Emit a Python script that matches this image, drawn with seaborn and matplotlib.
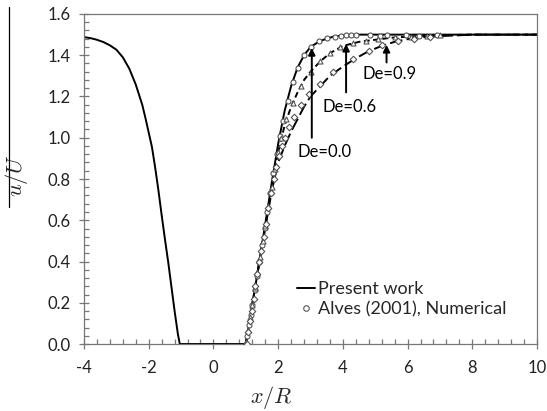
import numpy as np
import pandas as pd
import matplotlib
matplotlib.use("Agg")
import matplotlib.pyplot as plt
from matplotlib.lines import Line2D
from matplotlib.ticker import MultipleLocator
import seaborn as sns

# ---------------- data ----------------
# upstream branch (same for all De)
x_up = [-4.0, -3.8, -3.6, -3.4, -3.2, -3.0, -2.8, -2.6, -2.4, -2.2, -2.1, -2.0,
        -1.9, -1.8, -1.7, -1.6, -1.5, -1.4, -1.3, -1.2, -1.1, -1.04, 1.0]
y_up = [1.488, 1.483, 1.475, 1.464, 1.448, 1.427, 1.39, 1.335, 1.258, 1.16, 1.095,
        1.025, 0.955, 0.855, 0.745, 0.625, 0.51, 0.40, 0.28, 0.16, 0.05, 0.0, 0.0]

# present work, downstream
x_de00 = [1.0, 1.2, 1.4, 1.6, 1.8, 2.0, 2.2, 2.4, 2.6, 2.8, 3.0, 3.2, 3.4, 3.7,
          4.0, 4.5, 5.0, 6.0, 7.0, 8.0, 10.0]
y_de00 = [0.0, 0.19, 0.38, 0.58, 0.78, 0.97, 1.13, 1.25, 1.34, 1.40, 1.44, 1.46,
          1.475, 1.49, 1.496, 1.5, 1.5, 1.5, 1.5, 1.5, 1.5]

x_de06 = [1.0, 1.2, 1.4, 1.6, 1.8, 2.0, 2.2, 2.4, 2.6, 2.8, 3.0, 3.3, 3.6, 4.0,
          4.5, 5.0, 5.5, 6.0, 7.0, 8.0, 10.0]
y_de06 = [0.0, 0.19, 0.38, 0.57, 0.76, 0.93, 1.06, 1.15, 1.22, 1.28, 1.32, 1.37,
          1.41, 1.445, 1.465, 1.475, 1.485, 1.49, 1.497, 1.5, 1.5]

x_de09 = [1.0, 1.2, 1.4, 1.6, 1.8, 2.0, 2.2, 2.4, 2.6, 2.8, 3.0, 3.3, 3.6, 4.0,
          4.4, 4.8, 5.2, 5.6, 6.0, 6.5, 7.0, 7.5, 8.0, 9.0, 10.0]
y_de09 = [0.0, 0.19, 0.38, 0.56, 0.74, 0.88, 0.96, 1.03, 1.09, 1.15, 1.20, 1.25,
          1.30, 1.345, 1.385, 1.42, 1.445, 1.465, 1.478, 1.488, 1.493, 1.496,
          1.5, 1.5, 1.5]

# Alves (2001), numerical
xa_de00 = [1.0, 1.05, 1.1, 1.15, 1.2, 1.27, 1.35, 1.42, 1.5, 1.58, 1.66, 1.75,
           1.85, 1.95, 2.05, 2.15, 2.3, 2.45, 2.6, 2.8, 3.0, 3.25, 3.5, 3.75,
           3.95, 4.1, 4.25, 4.4, 4.85, 5.15, 5.35, 5.95, 6.35, 6.9]
ya_de00 = [0.0, 0.04, 0.09, 0.14, 0.19, 0.26, 0.33, 0.40, 0.48, 0.56, 0.64, 0.73,
           0.83, 0.92, 1.01, 1.08, 1.18, 1.27, 1.34, 1.40, 1.44, 1.47, 1.485,
           1.49, 1.495, 1.5, 1.5, 1.5, 1.5, 1.495, 1.5, 1.5, 1.495, 1.5]

xa_de06 = [1.02, 1.08, 1.14, 1.2, 1.28, 1.36, 1.44, 1.52, 1.6, 1.7, 1.8, 1.9,
           2.0, 2.1, 2.25, 2.45, 2.7, 3.0, 3.3, 3.6, 3.9, 4.3, 4.7, 5.1, 5.6,
           6.1, 6.6, 7.0]
ya_de06 = [0.01, 0.07, 0.13, 0.19, 0.27, 0.35, 0.42, 0.50, 0.57, 0.67, 0.76, 0.85,
           0.93, 1.00, 1.09, 1.17, 1.25, 1.32, 1.37, 1.41, 1.44, 1.46, 1.47,
           1.48, 1.49, 1.49, 1.495, 1.5]

xa_de09 = [1.03, 1.08, 1.13, 1.18, 1.24, 1.3, 1.36, 1.42, 1.48, 1.55, 1.62, 1.7,
           1.78, 1.86, 1.94, 2.02, 2.12, 2.22, 2.35, 2.5, 2.7, 2.95, 3.3, 3.7,
           4.3, 4.8, 5.2, 5.7, 6.2, 6.7]
ya_de09 = [0.0, 0.06, 0.11, 0.16, 0.22, 0.28, 0.34, 0.40, 0.45, 0.52, 0.58, 0.66,
           0.73, 0.80, 0.86, 0.91, 0.96, 1.00, 1.05, 1.10, 1.16, 1.21, 1.26, 1.32,
           1.38, 1.42, 1.45, 1.47, 1.48, 1.49]

# annotations: label, text position, arrow tail, arrow head
ann_labels = ["De=0.0", "De=0.6", "De=0.9"]
ann_text_xy = [(3.45, 0.93), (4.22, 1.15), (5.43, 1.31)]
ann_tail_xy = [(3.04, 1.00), (4.10, 1.22), (5.35, 1.365)]
ann_head_xy = [(3.04, 1.435), (4.10, 1.455), (5.35, 1.45)]

x_ticks = [-4, -2, 0, 2, 4, 6, 8, 10]
y_ticks = [0.0, 0.2, 0.4, 0.6, 0.8, 1.0, 1.2, 1.4, 1.6]

# ---------------- figure ----------------
sns.set_style("white")
plt.rcParams["font.family"] = ["Lato", "DejaVu Sans"]
plt.rcParams["mathtext.fontset"] = "cm"

W, H = 547, 411
fig = plt.figure(figsize=(W / 100, H / 100), dpi=100)
ax = fig.add_axes([84 / W, 1 - 344 / H, (537 - 84) / W, (344 - 14) / H])

line_kw = dict(color="black", linewidth=1.4, estimator=None, sort=False, legend=False)
sns.lineplot(data=pd.DataFrame({"x": x_up, "y": y_up}), x="x", y="y", ax=ax, **line_kw)
sns.lineplot(data=pd.DataFrame({"x": x_de00, "y": y_de00}), x="x", y="y", ax=ax, **line_kw)
sns.lineplot(data=pd.DataFrame({"x": x_de06, "y": y_de06}), x="x", y="y", ax=ax, **line_kw)
sns.lineplot(data=pd.DataFrame({"x": x_de09, "y": y_de09}), x="x", y="y", ax=ax, **line_kw)
ax.lines[2].set_dashes([3.0, 1.8])
ax.lines[3].set_dashes([6.5, 2.2])

mk_kw = dict(facecolor="white", edgecolor="#555555", linewidth=0.8, legend=False, zorder=3)
sns.scatterplot(x=xa_de00, y=ya_de00, marker="o", s=13, ax=ax, **mk_kw)
sns.scatterplot(x=xa_de06, y=ya_de06, marker="^", s=13, ax=ax, **mk_kw)
sns.scatterplot(x=xa_de09, y=ya_de09, marker="D", s=11, ax=ax, **mk_kw)

for lab, txy, tail, head in zip(ann_labels, ann_text_xy, ann_tail_xy, ann_head_xy):
    ax.annotate("", xy=head, xytext=tail,
                arrowprops=dict(arrowstyle="-|>", color="black", lw=1.4,
                                mutation_scale=10, shrinkA=0, shrinkB=0))
    ax.text(txy[0], txy[1], lab, ha="center", va="center", fontsize=12, color="black")

ax.set_xlim(-4, 10)
ax.set_ylim(0, 1.6)
ax.set_xticks(x_ticks)
ax.set_xticklabels([str(t) for t in x_ticks])
ax.set_yticks(y_ticks)
ax.set_yticklabels([f"{t:.1f}" for t in y_ticks])
ax.xaxis.set_minor_locator(MultipleLocator(0.4))
ax.yaxis.set_minor_locator(MultipleLocator(0.04))
ax.tick_params(which="major", direction="inout", length=7, width=0.9, color="#777777",
               labelsize=12, labelcolor="#222222")
ax.tick_params(axis="x", which="major", pad=8)
ax.tick_params(axis="y", which="major", pad=6)
ax.tick_params(which="minor", direction="in", length=3.5, width=0.9, color="#777777")
ax.tick_params(axis="x", which="both", bottom=True)
ax.tick_params(axis="y", which="both", left=True)
for sp in ax.spines.values():
    sp.set_color("#777777")
    sp.set_linewidth(0.9)
ax.set_xlabel("")
ax.set_ylabel("")

fig.text(271 / W, 1 - 397 / H, "$x/R$", ha="center", va="center", fontsize=16)
fig.text(17 / W, 1 - 176 / H, "$u/U$", ha="center", va="center", fontsize=16, rotation=90)
fig.add_artist(Line2D([9 / W, 9 / W], [1 - 7 / H, 1 - 207 / H], color="black",
                      linewidth=0.9, transform=fig.transFigure))

handles = [Line2D([], [], color="black", linewidth=1.4),
           Line2D([], [], linestyle="none", marker="o", markersize=4,
                  markerfacecolor="white", markeredgecolor="#555555", markeredgewidth=0.8)]
ax.legend(handles, ["Present work", "Alves (2001), Numerical"], loc="upper left",
          bbox_to_anchor=((297 - 84) / (537 - 84), (344 - 281) / 330), frameon=False,
          handlelength=1.0, handletextpad=0.15, fontsize=13, labelspacing=0.25,
          borderaxespad=0, borderpad=0)

fig.savefig("out.png", dpi=100)
